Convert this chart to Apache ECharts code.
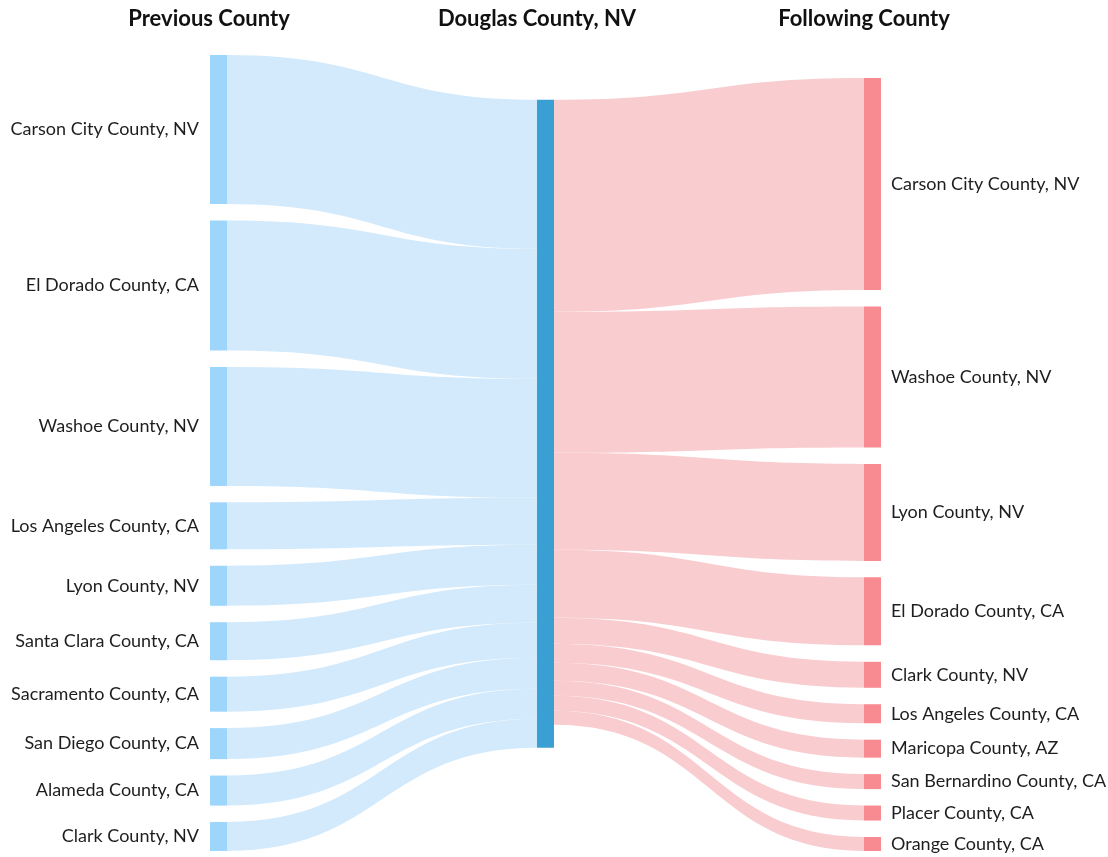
<!DOCTYPE html>
<html>
<head>
<meta charset="utf-8">
<style>
html,body{margin:0;padding:0;background:#fff;}
#chart{width:1108px;height:857px;}
</style>
<script src="https://cdn.jsdelivr.net/npm/echarts@6/dist/echarts.min.js"></script>
</head>
<body>
<div id="chart"></div>
<script>
// ---- Data ----
const centerCounty = 'Douglas County, NV';
const previousCounties = [
  'Carson City County, NV', 'El Dorado County, CA', 'Washoe County, NV',
  'Los Angeles County, CA', 'Lyon County, NV', 'Santa Clara County, CA',
  'Sacramento County, CA', 'San Diego County, CA', 'Alameda County, CA',
  'Clark County, NV'
];
const previousValues = [149, 130, 119, 47, 40, 38, 35, 31, 30, 29];
const followingCounties = [
  'Carson City County, NV', 'Washoe County, NV', 'Lyon County, NV',
  'El Dorado County, CA', 'Clark County, NV', 'Los Angeles County, CA',
  'Maricopa County, AZ', 'San Bernardino County, CA', 'Placer County, CA',
  'Orange County, CA'
];
const followingValues = [212, 141, 97, 68, 26, 19, 18, 15, 15, 14];
const headers = ['Previous County', 'Douglas County, NV', 'Following County'];

// ---- Build sankey ----
const colors = {
  prevNode: '#9dd5fb', centerNode: '#3a9fd3', nextNode: '#f78b91',
  prevLink: '#d2eafc', nextLink: '#f9cdd0'
};
const labelFont = { fontFamily: 'Lato', fontSize: 18, color: '#1e1e1e' };

const nodes = [];
const links = [];
previousCounties.forEach(function (c) {
  nodes.push({
    name: 'prev|' + c,
    itemStyle: { color: colors.prevNode },
    label: Object.assign({ show: true, position: 'left', distance: 11 }, labelFont)
  });
});
nodes.push({
  name: 'center|' + centerCounty,
  itemStyle: { color: colors.centerNode },
  label: { show: false }
});
followingCounties.forEach(function (c) {
  nodes.push({
    name: 'next|' + c,
    itemStyle: { color: colors.nextNode },
    label: Object.assign({ show: true, position: 'right', distance: 10 }, labelFont)
  });
});
previousCounties.forEach(function (c, i) {
  links.push({
    source: 'prev|' + c, target: 'center|' + centerCounty, value: previousValues[i],
    lineStyle: { color: colors.prevLink, opacity: 1 }
  });
});
followingCounties.forEach(function (c, i) {
  links.push({
    source: 'center|' + centerCounty, target: 'next|' + c, value: followingValues[i],
    lineStyle: { color: colors.nextLink, opacity: 1 }
  });
});

const chart = echarts.init(document.getElementById('chart'));
const headerStyle = { textAlign: 'center', textVerticalAlign: 'middle', font: 'bold 22px Lato', fill: '#111' };
chart.setOption({
  animation: false,
  backgroundColor: '#ffffff',
  graphic: [
    { type: 'text', x: 209, y: 19, style: Object.assign({ text: headers[0] }, headerStyle) },
    { type: 'text', x: 537, y: 19, style: Object.assign({ text: headers[1] }, headerStyle) },
    { type: 'text', x: 864, y: 19, style: Object.assign({ text: headers[2] }, headerStyle) }
  ],
  series: [{
    type: 'sankey',
    left: 210, right: 227, top: 55, bottom: 6,
    nodeWidth: 17,
    nodeGap: 16.44,
    nodeAlign: 'justify',
    layoutIterations: 32,
    draggable: false,
    emphasis: { disabled: true },
    label: {
      formatter: function (p) { return p.name.split('|')[1]; }
    },
    itemStyle: { borderWidth: 0 },
    lineStyle: { curveness: 0.5, opacity: 1 },
    data: nodes,
    links: links
  }]
});
</script>
</body>
</html>
